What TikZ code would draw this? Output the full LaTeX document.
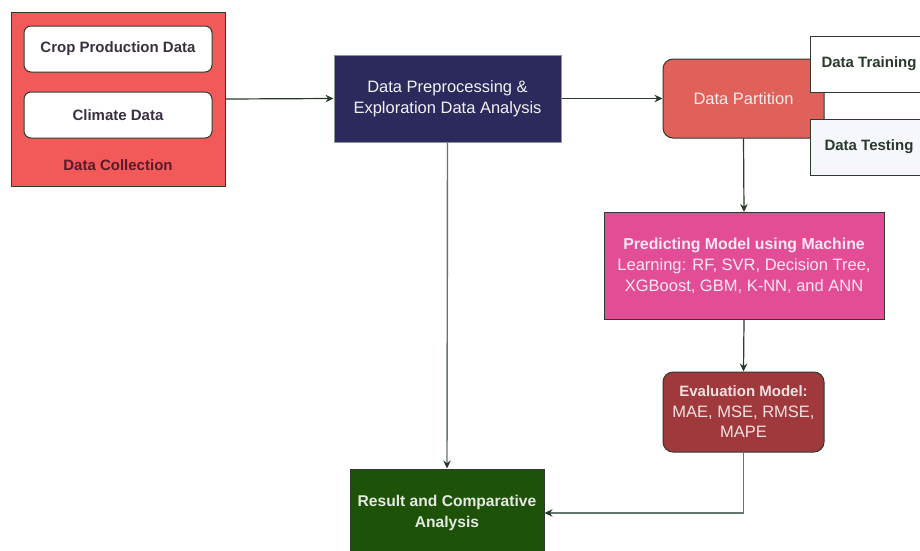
\documentclass[tikz,border=0pt]{standalone}
\usepackage{fontspec}
\setmainfont{Liberation Sans}
\usetikzlibrary{arrows.meta}

\definecolor{collectfill}{HTML}{F25A5A}
\definecolor{collecttext}{HTML}{5A1A2A}
\definecolor{boxtext}{HTML}{3A3040}
\definecolor{navyfill}{HTML}{2C2A5C}
\definecolor{navyedge}{HTML}{8A9A8A}
\definecolor{partfill}{HTML}{E0605A}
\definecolor{pinkfill}{HTML}{E24D96}
\definecolor{evalfill}{HTML}{A0393B}
\definecolor{greenfill}{HTML}{1E5209}
\definecolor{testfill}{HTML}{F5F7FD}
\definecolor{edgedark}{HTML}{2E3A2E}
\definecolor{linkdark}{HTML}{2A3A2A}
\definecolor{linkgrey}{HTML}{66756A}

% regular and bold label faces
\newcommand{\plainlbl}{\fontsize{16.5}{20.5}\selectfont}
\newcommand{\boldlbl}{\fontsize{15}{20.5}\selectfont\bfseries}

\tikzset{
  every node/.style={font=\plainlbl, align=center, inner sep=0pt},
  blockbox/.style={draw=edgedark, line width=1pt},
  roundbox/.style={blockbox, rounded corners=10pt},
  databox/.style={draw=edgedark, line width=1pt, fill=white, rounded corners=7pt,
                  minimum width=188pt, minimum height=46pt, text=boxtext, font=\boldlbl},
  sidebox/.style={draw=edgedark, line width=1pt, minimum width=118pt, minimum height=56pt,
                  text=linkdark, font=\boldlbl},
  link/.style={draw=linkdark, line width=1.2pt, -{Stealth[length=8pt,width=7.5pt,color=linkdark]}},
  greylink/.style={link, draw=linkgrey, line width=1.4pt}
}

\begin{document}
\begin{tikzpicture}[x=1pt, y=-1pt]
  \useasboundingbox (0,0) rectangle (920,550);
  \clip (0,0) rectangle (920,550);

  % data collection group
  \node[blockbox, fill=collectfill, minimum width=214pt, minimum height=174pt] (collect) at (118,99) {};
  \node[databox] (crop) at (118,49) {Crop Production Data};
  \node[databox] (climate) at (118,115) {Climate Data};
  \node[text=collecttext, font=\boldlbl] (collectlabel) at (118,165) {Data Collection};

  % preprocessing
  \node[draw=navyedge, line width=1pt, fill=navyfill, text=white!90!gray,
        minimum width=227pt, minimum height=87pt] (prep) at (447.5,98.5)
        {Data Preprocessing \&\\Exploration Data Analysis};

  % partition with its two outputs
  \node[roundbox, fill=partfill, text=white!88!partfill, minimum width=161pt, minimum height=79pt]
        (part) at (743.5,98.5) {Data Partition};
  \node[sidebox, fill=white] (train) at (869,64) {Data Training};
  \node[sidebox, fill=testfill] (test) at (869,147) {Data Testing};

  % model training
  \node[blockbox, fill=pinkfill, text=white!88!pinkfill, minimum width=280pt, minimum height=107pt]
        (pred) at (744,266)
        {{\fontsize{15.8}{21}\selectfont\bfseries Predicting Model using Machine}\\[0.5pt]
         Learning: RF, SVR, Decision Tree,\\[0.5pt]XGBoost, GBM, K-NN, and ANN};

  % evaluation
  \node[roundbox, fill=evalfill, text=white!85!evalfill, minimum width=161pt, minimum height=80pt]
        (eval) at (743.5,412)
        {{\boldlbl Evaluation Model:}\\MAE, MSE, RMSE,\\MAPE};

  % results
  \node[blockbox, fill=greenfill, text=white!88!greenfill, minimum width=194pt, minimum height=88pt,
        font=\fontsize{15.6}{20.5}\selectfont\bfseries]
        (result) at (447,513) {Result and Comparative\\Analysis};

  % connectors
  \draw[link] (collect.east) -- (prep.west);
  \draw[link] (prep.east) -- (part.west);
  \draw[link] (part.south) -- (pred.north);
  \draw[link] (pred.south) -- (eval.north);
  \draw[greylink] (prep.south) -- (result.north);
  \draw[greylink] (eval.south) |- (result.east);
\end{tikzpicture}
\end{document}
